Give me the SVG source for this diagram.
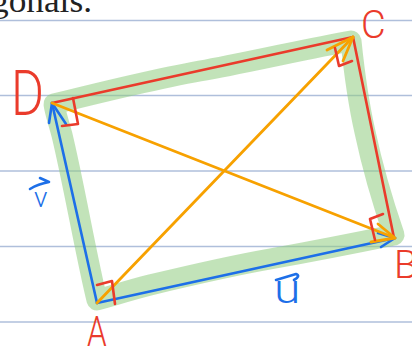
<svg xmlns="http://www.w3.org/2000/svg" width="412" height="347" viewBox="0 0 412 347">
<defs>
<style>
.rule{stroke:#afbfdb;stroke-width:1.5;fill:none}
.hl{stroke:#8fcc7f;stroke-opacity:0.55;stroke-width:21;fill:none;stroke-linejoin:round;stroke-linecap:round}
.red{stroke:#ea3b2b;stroke-width:2.6;fill:none;stroke-linecap:round;stroke-linejoin:round}
.blue{stroke:#1d6fe8;stroke-width:2.6;fill:none;stroke-linecap:round;stroke-linejoin:round}
.orange{stroke:#f7a100;stroke-width:2.8;fill:none;stroke-linecap:round;stroke-linejoin:round}
.lblR{fill:#ea3b2b;font-family:Roboto,"Liberation Sans",sans-serif;font-weight:300}
.lblB{fill:#1d6fe8;font-family:Roboto,"Liberation Sans",sans-serif;font-weight:300}
.title{fill:#222;font-family:"Liberation Serif","DejaVu Serif",serif}
</style>
</defs>
<rect width="412" height="347" fill="#ffffff"/>
<g id="rules">
<line class="rule" x1="0" y1="20.5" x2="412" y2="20.5"/>
<line class="rule" x1="0" y1="95.5" x2="412" y2="95.5"/>
<line class="rule" x1="0" y1="171" x2="412" y2="171"/>
<line class="rule" x1="0" y1="246.5" x2="412" y2="246.5"/>
<line class="rule" x1="0" y1="322" x2="412" y2="322"/>
</g>
<text class="title" x="-9" y="12" font-size="34" textLength="101" lengthAdjust="spacingAndGlyphs">gonals.</text>
<g id="highlight">
<path class="hl" d="M54,104 C110,90 170,76 206,70 C260,60 310,48 351,41 C355,80 360,110 365,132 C372,165 382,200 394,235 C360,242 320,250 270,259 C230,266 200,273 150,285 C130,290 115,295 97,300 C92,280 86,250 80,220 C74,190 68,160 62,135 C58,120 55,112 54,104 Z"/>
</g>
<g id="connectors">
<line id="DC" class="red" x1="52" y1="103" x2="353" y2="37"/>
<line id="CB" class="red" x1="353" y1="37" x2="394" y2="238"/>
<g id="vec-v">
<line class="blue" x1="97" y1="303" x2="52" y2="103"/>
<path class="blue" d="M49,123 L52,103 L66,124"/>
</g>
<g id="vec-u">
<line class="blue" x1="97" y1="303" x2="395" y2="238"/>
<path class="blue" d="M378,233 L395,238 L381,247"/>
</g>
<g id="diag-AC">
<line class="orange" x1="97" y1="303" x2="353" y2="37"/>
<path class="orange" d="M327,50 L353,37 L343,61"/>
</g>
<g id="diag-DB">
<line class="orange" x1="52" y1="103" x2="395" y2="238"/>
<path class="orange" d="M378,224 L395,238 L371,242"/>
</g>
</g>
<g id="A">
<path class="red" d="M97,285 L112,281 L115,304"/>
<text class="lblR" transform="translate(87,346) scale(0.75,1)" font-size="42">A</text>
</g>
<g id="B">
<path class="red" d="M383,214 L370,219 L375,240"/>
<text class="lblR" x="394" y="278" font-size="39">B</text>
</g>
<g id="C">
<path class="red" d="M335,48 L339,66 L352,61"/>
<text class="lblR" x="361" y="38" font-size="38">C</text>
</g>
<g id="D">
<path class="red" d="M73,98 L78,124 L62,126"/>
<text class="lblR" transform="translate(11,115) scale(0.8,1)" font-size="63">D</text>
</g>
<g id="label-v">
<path class="blue" d="M30,189 Q38,184 49,182 M40,178 L49,182"/>
<text class="lblB" x="34" y="207" font-size="28">v</text>
</g>
<g id="label-u">
<path class="blue" d="M276,280 L296,274 Q301,276 294,280"/>
<text class="lblB" transform="translate(274,303) scale(1.2,1)" font-size="40">u</text>
</g>
</svg>
